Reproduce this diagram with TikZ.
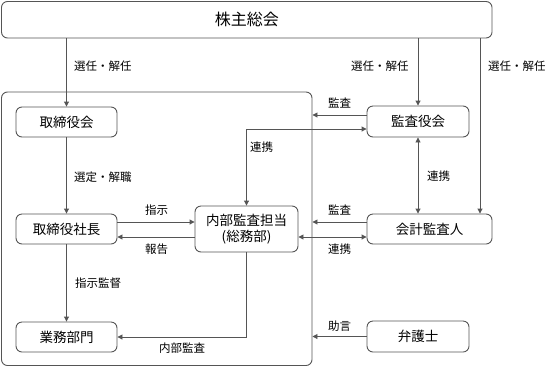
\documentclass[tikz,border=0pt]{standalone}
\usepackage{fontspec}
\setmainfont{Noto Sans CJK JP}
\usetikzlibrary{arrows.meta}
\definecolor{ln}{HTML}{555555}
\begin{document}
\begin{tikzpicture}[x=1bp,y=-1bp,
  box/.style={draw=ln,line width=0.9bp,rounded corners=6bp,inner sep=0pt,
    font=\fontsize{13.5bp}{16bp}\selectfont,align=center},
  lbl/.style={anchor=west,inner sep=0pt,font=\fontsize{11.5bp}{14bp}\selectfont},
  conn/.style={draw=ln,line width=0.9bp},
  arr/.style={conn,-{Triangle[length=5bp,width=5bp]}},
  arrr/.style={conn,{Triangle[length=5bp,width=5bp]}-{Triangle[length=5bp,width=5bp]}}]
\useasboundingbox (0,0) rectangle (547,367);
% nodes
\node[box,minimum width=490.5bp,minimum height=36.5bp,font=\fontsize{16bp}{18bp}\selectfont] (soukai) at (246.75,19.75) {株主総会};
\node[box,minimum width=310.5bp,minimum height=273.5bp] (cont) at (156.75,228.75) {};
\node[box,minimum width=101bp,minimum height=30bp] (torikai) at (66.5,122) {取締役会};
\node[box,minimum width=101bp,minimum height=30bp] (shacho) at (66.5,229) {取締役社長};
\node[box,minimum width=101bp,minimum height=30bp] (gyomu) at (66.5,337) {業務部門};
\node[box,minimum width=103bp,minimum height=46bp,font=\fontsize{13.5bp}{15.5bp}\selectfont] (naibu) at (246.5,229) {内部監査担当\\(総務部)};
\node[box,minimum width=102bp,minimum height=31bp] (kansa) at (418,121.5) {監査役会};
\node[box,minimum width=125bp,minimum height=30bp] (kaikei) at (429.5,229) {会計監査人};
\node[box,minimum width=102bp,minimum height=31bp] (bengo) at (418,336.5) {弁護士};
\coordinate (k3) at (480,200);
\coordinate (ka1) at ([yshift=6.5bp]kansa.west);
\coordinate (ka2) at ([yshift=-7.5bp]kansa.west);
\coordinate (kk1) at ([yshift=7bp]kaikei.west);
\coordinate (kk2) at ([yshift=-8bp]kaikei.west);
% connectors
\draw[arr] (torikai.north |- soukai.south) -- (torikai.north);
\draw[arr] (kansa.north |- soukai.south) -- (kansa.north);
\draw[arr] (soukai.south -| k3) -- (kaikei.north -| k3);
\draw[arr] (torikai.south) -- (shacho.north);
\draw[arr] (shacho.south) -- (gyomu.north);
\draw[arr] ([yshift=7bp]shacho.east) -- ([yshift=7bp]naibu.west);
\draw[arr] ([yshift=-8bp]naibu.west) -- ([yshift=-8bp]shacho.east);
\draw[arrr] (naibu.north) |- (ka2);
\draw[arr] (ka1) -- (cont.east |- ka1);
\draw[arrr] (kansa.south) -- (kansa.south |- kaikei.north);
\draw[arr] (kk1) -- (cont.east |- kk1);
\draw[arrr] (kk2) -- (naibu.east |- kk2);
\draw[arr] (bengo.west) -- (cont.east |- bengo.west);
\draw[arr] (naibu.south) |- (gyomu.east);
% labels
\node[lbl] (l1) at (74,66) {選任・解任};
\node[lbl] (l2) at (351,66) {選任・解任};
\node[lbl] (l3) at (488,66) {選任・解任};
\node[lbl] (l4) at (328,103) {監査};
\node[lbl] (l5) at (328,210) {監査};
\node[lbl] (l6) at (328,249) {連携};
\node[lbl] (l7) at (328,326) {助言};
\node[lbl] (l8) at (250,147) {連携};
\node[lbl] (l9) at (427,176) {連携};
\node[lbl] (l10) at (74,177) {選定・解職};
\node[lbl] (l11) at (75,283) {指示監督};
\node[lbl] (l12) at (145,210) {指示};
\node[lbl] (l13) at (145,249) {報告};
\node[lbl] (l14) at (159,348) {内部監査};
\end{tikzpicture}
\end{document}
